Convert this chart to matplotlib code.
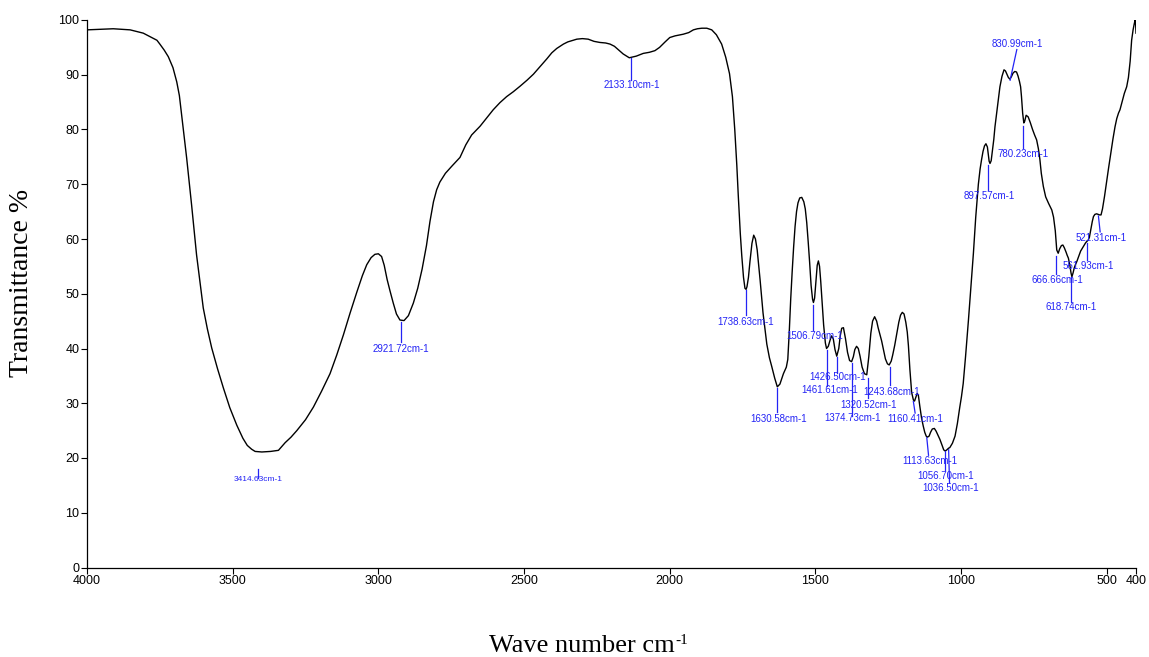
import matplotlib
matplotlib.use("Agg")
import matplotlib.pyplot as plt
from matplotlib.text import Annotation

# ---- spectrum data (wavenumber cm-1, transmittance %) ----
wavenumber = [4000, 3950, 3910, 3852, 3807, 3778, 3760, 3750, 3735, 3721, 3705, 3692,
              3683, 3675, 3658, 3641, 3624, 3612, 3601, 3587, 3572, 3552, 3532, 3510,
              3486, 3465, 3450, 3435, 3423, 3400, 3370, 3343, 3320, 3300, 3280, 3250,
              3223, 3195, 3166, 3143, 3120, 3097, 3074, 3055, 3040, 3025, 3012, 3000,
              2989, 2980, 2970, 2960, 2949, 2938, 2926, 2912, 2897, 2880, 2865, 2850,
              2835, 2823, 2811, 2800, 2789, 2770, 2748, 2720, 2700, 2680, 2651, 2630,
              2606, 2583, 2560, 2537, 2514, 2490, 2468, 2445, 2422, 2405, 2388, 2365,
              2350, 2319, 2300, 2280, 2260, 2240, 2220, 2205, 2190, 2177, 2160, 2139,
              2115, 2091, 2070, 2051, 2035, 2016, 2000, 1982, 1954, 1935, 1919, 1905,
              1890, 1873, 1856, 1840, 1822, 1808, 1795, 1785, 1777, 1770, 1765, 1758,
              1753, 1747, 1742, 1738, 1735, 1730, 1725, 1718, 1712, 1706, 1700, 1695,
              1690, 1680, 1667, 1658, 1650, 1640, 1631, 1622, 1610, 1600, 1595, 1590,
              1585, 1580, 1575, 1570, 1565, 1560, 1554, 1547, 1540, 1535, 1530, 1525,
              1520, 1515, 1510, 1507, 1503, 1498, 1494, 1490, 1486, 1482, 1478, 1472,
              1466, 1462, 1456, 1450, 1445, 1439, 1433, 1427, 1420, 1415, 1410, 1404,
              1397, 1390, 1383, 1376, 1370, 1365, 1359, 1353, 1347, 1340, 1332, 1324,
              1317, 1310, 1304, 1297, 1290, 1285, 1279, 1273, 1266, 1260, 1253, 1247,
              1240, 1235, 1228, 1221, 1214, 1208, 1202, 1196, 1190, 1185, 1181, 1176,
              1170, 1164, 1160, 1155, 1151, 1147, 1142, 1136, 1130, 1125, 1120, 1116,
              1110, 1105, 1099, 1092, 1086, 1080, 1073, 1068, 1064, 1060, 1056, 1051,
              1047, 1043, 1039, 1030, 1021, 1013, 1005, 999, 993, 985, 975, 967,
              958, 950, 941, 935, 930, 925, 920, 915, 910, 907, 904, 901,
              897, 893, 888, 884, 875, 867, 860, 853, 848, 843, 838, 833,
              828, 822, 816, 810, 805, 800, 796, 793, 789, 785, 782, 777,
              770, 763, 755, 748, 741, 735, 730, 725, 718, 710, 700, 689,
              683, 677, 672, 667, 662, 656, 651, 646, 640, 636, 632, 627,
              623, 620, 616, 612, 608, 603, 597, 590, 581, 573, 568, 564,
              560, 555, 550, 546, 541, 535, 530, 525, 520, 515, 508, 500,
              494, 486, 479, 472, 466, 460, 455, 448, 440, 432, 426, 420,
              415, 410, 406, 403, 401, 400]
transmittance = [98.2, 98.3, 98.4, 98.2, 97.6, 96.8, 96.3, 95.6, 94.5, 93.3, 91.3, 88.7,
                 86.2, 82.6, 74.8, 66.2, 57.1, 52.0, 47.4, 43.6, 40.1, 36.3, 32.8, 29.2,
                 26.0, 23.6, 22.3, 21.6, 21.2, 21.1, 21.2, 21.4, 22.8, 23.8, 25.0, 27.0,
                 29.3, 32.2, 35.4, 38.8, 42.5, 46.5, 50.3, 53.3, 55.3, 56.6, 57.2, 57.3,
                 56.8, 55.2, 52.6, 50.5, 48.3, 46.3, 45.2, 45.1, 46.0, 48.3, 51.0, 54.5,
                 58.8, 63.2, 66.8, 69.0, 70.4, 72.0, 73.3, 74.9, 77.2, 79.0, 80.6, 82.0,
                 83.6, 84.9, 86.0, 86.9, 87.9, 89.0, 90.1, 91.5, 92.9, 94.0, 94.8, 95.6,
                 96.0, 96.5, 96.6, 96.5, 96.1, 95.9, 95.8, 95.6, 95.2, 94.6, 93.8, 93.1,
                 93.4, 93.9, 94.1, 94.4, 95.0, 96.0, 96.8, 97.1, 97.4, 97.7, 98.2, 98.4,
                 98.5, 98.5, 98.2, 97.3, 95.6, 93.2, 90.2, 86.0, 80.0, 73.5, 68.0, 61.0,
                 57.0, 53.0, 51.0, 50.8, 51.3, 53.0, 55.8, 59.2, 60.7, 60.0, 58.0, 55.2,
                 52.5, 46.5, 40.8, 38.3, 36.7, 34.6, 33.0, 33.5, 35.4, 36.6, 38.0, 43.0,
                 49.0, 54.0, 58.5, 62.3, 65.0, 66.6, 67.5, 67.6, 66.8, 65.5, 63.0, 59.5,
                 55.7, 51.5, 49.0, 48.4, 49.2, 52.5, 55.2, 56.0, 55.0, 52.3, 49.0, 44.3,
                 41.0, 40.0, 40.4, 41.5, 42.3, 41.8, 39.8, 38.6, 40.0, 42.3, 43.7, 43.8,
                 41.8, 39.3, 37.8, 37.6, 38.5, 39.8, 40.4, 40.0, 38.6, 36.6, 35.4, 35.2,
                 38.5, 42.8, 45.0, 45.8, 45.0, 43.8, 42.6, 41.4, 39.6, 38.1, 37.2, 37.0,
                 37.7, 38.8, 40.6, 42.7, 44.8, 46.1, 46.6, 46.3, 44.8, 43.0, 40.5, 36.2,
                 32.0, 30.6, 30.4, 31.2, 31.8, 31.5, 29.5, 27.3, 25.8, 24.7, 24.0, 23.8,
                 24.0, 24.7, 25.3, 25.4, 24.9, 24.2, 23.4, 22.7, 22.1, 21.5, 21.3, 21.4,
                 21.6, 21.8, 21.9, 22.7, 24.0, 26.3, 29.2, 31.2, 33.6, 38.5, 45.2, 51.0,
                 57.4, 64.0, 70.0, 72.8, 74.5, 76.0, 77.0, 77.4, 76.8, 75.5, 74.2, 73.8,
                 74.3, 76.0, 78.2, 80.5, 84.3, 87.8, 89.7, 90.9, 90.7, 90.1, 89.5, 89.2,
                 89.6, 90.3, 90.6, 90.5, 89.8, 88.8, 87.8, 86.0, 83.0, 81.2, 81.5, 82.6,
                 82.3, 81.3, 80.0, 79.0, 78.1, 76.5, 74.6, 72.0, 69.6, 67.7, 66.5, 65.3,
                 64.0, 61.5, 58.0, 57.4, 58.2, 58.8, 58.9, 58.4, 57.6, 57.0, 56.5, 55.2,
                 53.8, 53.1, 53.8, 54.7, 55.3, 55.9, 56.8, 57.8, 58.6, 59.3, 59.6, 59.8,
                 60.3, 61.8, 63.2, 64.1, 64.5, 64.6, 64.5, 64.4, 64.4, 65.5, 67.8, 70.8,
                 73.0, 75.9, 78.3, 80.5, 82.0, 83.0, 83.6, 85.0, 86.6, 87.8, 89.5, 92.5,
                 96.3, 98.2, 99.3, 100.0, 99.0, 97.6]

# ---- peak labels ----
peak_labels = ["3414.63cm-1", "2921.72cm-1", "2133.10cm-1", "1738.63cm-1", "1630.58cm-1",
               "1506.79cm-1", "1461.61cm-1", "1426.50cm-1", "1374.73cm-1", "1320.52cm-1",
               "1243.68cm-1", "1160.41cm-1", "1113.63cm-1", "1056.70cm-1", "1036.50cm-1",
               "897.57cm-1", "830.99cm-1", "780.23cm-1", "666.66cm-1", "618.74cm-1",
               "561.93cm-1", "521.31cm-1"]

# layout of the marker lines and texts: (x1, y1, x2, y2, text_x, text_y)
label_layout = [
    (3414, 18.0, 3414, 16.4, 3414, 16.0),
    (2922, 44.8, 2922, 41.2, 2922, 39.9),
    (2133, 93.1, 2133, 89.0, 2130, 88.1),
    (1739, 50.7, 1739, 46.1, 1739, 44.8),
    (1631, 32.8, 1631, 28.4, 1628, 27.2),
    (1507, 47.9, 1507, 43.4, 1504, 42.3),
    (1462, 39.8, 1462, 33.2, 1452, 32.4),
    (1427, 38.5, 1427, 35.5, 1423, 34.8),
    (1375, 37.4, 1375, 27.7, 1371, 27.3),
    (1321, 34.6, 1321, 31.0, 1319, 29.7),
    (1244, 36.6, 1244, 33.3, 1240, 32.1),
    (1164, 30.3, 1158, 28.2, 1158, 27.1),
    (1118, 23.7, 1112, 20.5, 1108, 19.5),
    (1057, 21.2, 1057, 17.8, 1052, 16.8),
    (1043, 21.5, 1040, 15.4, 1036, 14.5),
    (907, 73.5, 907, 69.0, 904, 67.9),
    (832, 89.0, 809, 94.6, 806, 95.7),
    (787, 80.6, 787, 76.6, 786, 75.5),
    (674, 56.9, 674, 53.6, 671, 52.5),
    (624, 53.1, 624, 48.5, 622, 47.5),
    (567, 59.3, 567, 56.2, 564, 55.1),
    (529, 64.2, 523, 61.3, 520, 60.2),
]

x_ticks = [4000, 3500, 3000, 2500, 2000, 1500, 1000, 500, 400]
y_ticks = [0, 10, 20, 30, 40, 50, 60, 70, 80, 90, 100]

blue = "#2323F5"

fig = plt.figure(figsize=(11.49, 6.57), dpi=100)
ax = fig.add_axes([87 / 1149, 1 - 567.5 / 657, (1136 - 87) / 1149, (567.5 - 20) / 657])
n = min(len(wavenumber), len(transmittance))
ax.plot(wavenumber[:n], transmittance[:n], color="black", lw=1.0)

for lab, (x1, y1, x2, y2, tx, ty) in zip(peak_labels, label_layout):
    ax.plot([x1, x2], [y1, y2], color=blue, lw=0.9)
    fs = 6 if lab.startswith("3414") else 7
    ax.text(tx, ty, lab, color=blue, fontsize=fs, ha="center", va="center",
            family="Liberation Sans")

ax.set_xlim(4000, 400)
ax.set_ylim(0, 100)
ax.set_xticks(x_ticks)
ax.set_yticks(y_ticks)
for lbl in ax.get_xticklabels() + ax.get_yticklabels():
    lbl.set_family("Liberation Sans")
    lbl.set_fontsize(9)
ax.tick_params(direction="out", length=4, width=0.8, pad=1.5)
ax.spines["top"].set_visible(False)
ax.spines["right"].set_visible(False)
for s in ("left", "bottom"):
    ax.spines[s].set_linewidth(0.9)

xl = fig.text(582 / 1149, 1 - 646 / 657, "Wave number cm", ha="center", va="center",
              fontsize=19, family="Liberation Serif")
fig.add_artist(Annotation("-1", xy=(1.0, 1.0), xycoords=xl,
                          xytext=(0.5, 1), textcoords="offset points",
                          ha="left", va="top", fontsize=11,
                          family="Liberation Serif"))
fig.text(22 / 1149, 1 - 283 / 657, "Transmittance %", ha="center", va="center",
         rotation=90, fontsize=20, family="Liberation Serif")

fig.savefig("out.png", dpi=100)
